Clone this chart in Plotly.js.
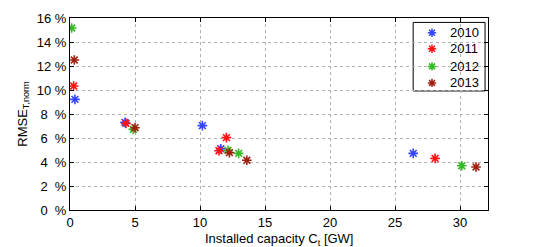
<!DOCTYPE html>
<html>
<head>
<meta charset="utf-8">
<script src="https://cdn.plot.ly/plotly-3.0.1.min.js"></script>
<style>html,body{margin:0;padding:0;background:#fff;}#chart{width:540px;height:247px;}</style>
</head>
<body>
<div id="chart"></div>
<script>
var years = ['2010', '2011', '2012', '2013'];
var cap2010 = [0.38, 4.23, 10.18, 11.6, 26.4];
var rmse2010 = [9.22, 7.3, 7.03, 5.1, 4.72];
var cap2011 = [0.28, 4.3, 12.03, 11.46, 28.08];
var rmse2011 = [10.33, 7.22, 6.03, 4.94, 4.3];
var cap2012 = [0.13, 4.87, 12.15, 12.97, 30.13];
var rmse2012 = [15.17, 6.72, 4.97, 4.72, 3.69];
var cap2013 = [0.33, 5.0, 12.26, 13.6, 31.23];
var rmse2013 = [12.5, 6.86, 4.78, 4.14, 3.58];
var colors = ['#3344ff', '#ff1111', '#33bb22', '#a02010'];
var xs = [cap2010, cap2011, cap2012, cap2013];
var ys = [rmse2010, rmse2011, rmse2012, rmse2013];
var yTicks = [0, 2, 4, 6, 8, 10, 12, 14, 16];
var xTicks = [0, 5, 10, 15, 20, 25, 30];

var FF = 'Liberation Sans, Arial, sans-serif';
var traces = years.map(function (yr, i) {
  return {
    x: xs[i], y: ys[i], name: yr, type: 'scatter', mode: 'markers', showlegend: false,
    marker: { symbol: 'asterisk-open', size: 8, color: colors[i], line: { color: colors[i], width: 1.6 } }
  };
});

// legend (drawn in a fixed 0..1 overlay frame)
var legX = 0.866, legTextX = 0.905;
var legY = [0.923, 0.84, 0.748, 0.662];
traces.push({
  x: years.map(function () { return legX; }), y: legY,
  xaxis: 'x2', yaxis: 'y2', type: 'scatter', mode: 'markers', showlegend: false, hoverinfo: 'skip',
  marker: { symbol: 'asterisk-open', size: 7, color: colors, line: { color: colors, width: 1.5 } }
});
var annotations = years.map(function (yr, i) {
  return { xref: 'x2', yref: 'y2', x: legTextX, y: legY[i], text: yr, showarrow: false,
    xanchor: 'left', yanchor: 'middle', font: { family: FF, size: 13, color: '#000' } };
});
annotations.push({
  xref: 'paper', yref: 'paper', x: 0.5, y: -0.1, yanchor: 'top', xanchor: 'center',
  text: 'Installed capacity C<sub>t</sub> [GW]', showarrow: false,
  font: { family: FF, size: 13, color: '#000' }
});

var layout = {
  width: 540, height: 247,
  margin: { l: 70, r: 52, t: 18, b: 37 },
  paper_bgcolor: '#fff', plot_bgcolor: '#fff',
  font: { family: FF, size: 12, color: '#000' },
  showlegend: false,
  annotations: annotations,
  shapes: [{ type: 'rect', xref: 'x2', yref: 'y2', x0: 0.821, x1: 0.993, y0: 0.62, y1: 0.977,
    line: { color: '#000', width: 1 }, fillcolor: '#fff', layer: 'below' }],
  xaxis: {
    range: [0, 32.15], tickvals: xTicks, ticktext: xTicks.map(String),
    showline: true, linecolor: '#000', linewidth: 1, mirror: 'ticks',
    ticks: 'inside', ticklen: 4, tickcolor: '#000',
    showgrid: true, gridcolor: '#b0b0b0', griddash: 'dot', gridwidth: 1,
    zeroline: false,
    tickfont: { family: FF, size: 13, color: '#000' }
  },
  yaxis: {
    range: [0, 16], tickvals: yTicks,
    ticktext: yTicks.map(function (v) { return v < 10 ? v + '\u00a0\u00a0%' : v + '\u00a0%'; }),
    showline: true, linecolor: '#000', linewidth: 1, mirror: 'ticks',
    ticks: 'inside', ticklen: 4, tickcolor: '#000',
    showgrid: true, gridcolor: '#b0b0b0', griddash: 'dot', gridwidth: 1,
    zeroline: false,
    tickfont: { family: FF, size: 13, color: '#000' },
    title: { text: 'RMSE<sub>T,norm</sub>', font: { family: FF, size: 13, color: '#000' }, standoff: 6 }
  },
  xaxis2: { overlaying: 'x', range: [0, 1], visible: false, fixedrange: true },
  yaxis2: { overlaying: 'y', range: [0, 1], visible: false, fixedrange: true }
};
Plotly.newPlot('chart', traces, layout, { displayModeBar: false, staticPlot: true });
</script>
</body>
</html>
